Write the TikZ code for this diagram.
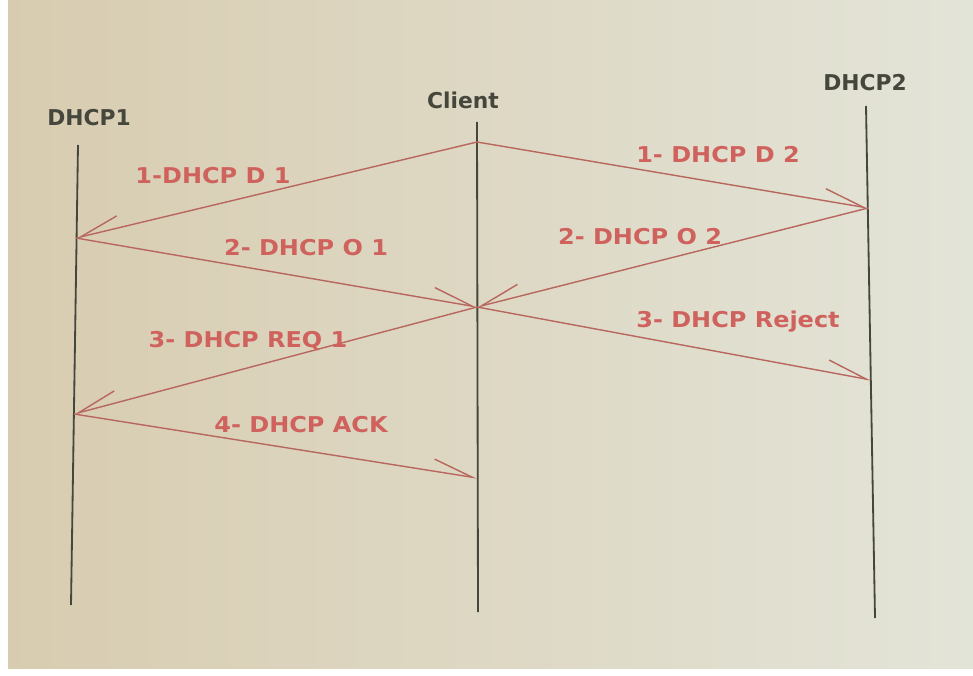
\documentclass[tikz,border=0pt]{standalone}
\usepackage{fontspec}
\setmainfont{DejaVu Sans}
\newfontfamily\widesans[FakeStretch=1.1]{DejaVu Sans}
\usepackage{xcolor}
\usetikzlibrary{arrows.meta}
\definecolor{paperL}{HTML}{D8CCB0}
\definecolor{paperM}{HTML}{E4E1D2}
\definecolor{paperR}{HTML}{E3E4D8}
\definecolor{msgline}{HTML}{B8675F}
\definecolor{msgtext}{HTML}{D0625E}
\definecolor{lifeline}{HTML}{45463C}

\begin{document}
\begin{tikzpicture}[x=0.025cm,y=-0.025cm,
    head/.style={text=lifeline,font=\fontsize{15.5}{18}\selectfont\bfseries,inner sep=0pt},
    life/.style={draw=lifeline,line width=1.3pt},
    lbl/.style={text=msgtext,font=\widesans\fontsize{15.5}{18}\selectfont\bfseries,inner sep=0pt},
    msg/.style={draw=msgline,line width=1pt},
    msge/.style={msg,-{Straight Barb[left,length=10mm,width=6mm]}},
    msgw/.style={msg,-{Straight Barb[right,length=10mm,width=6mm]}}]
  \useasboundingbox (0,0) rectangle (973,676);
  \fill[white] (0,0) rectangle (973,676);
  \shade[left color=paperL,middle color=paperM,right color=paperR] (8,0) rectangle (973,668);

  % lifelines
  \node[head] (dhcp1) at (89,118) {DHCP1};
  \node[head] (client) at (463,100) {Client};
  \node[head] (dhcp2) at (865,83) {DHCP2};
  \coordinate (d1top) at (78,145);
  \coordinate (d1bot) at (71,605);
  \coordinate (cltop) at (477,122);
  \coordinate (clbot) at (478,612);
  \coordinate (d2top) at (866,106);
  \coordinate (d2bot) at (875,618);
  \draw[life] (d1top) -- (d1bot);
  \draw[life] (cltop) -- (clbot);
  \draw[life] (d2top) -- (d2bot);

  % message ends on the lifelines
  \coordinate (c1) at (477,142);
  \coordinate (c2) at (477,307);
  \coordinate (c3) at (477,478);
  \coordinate (d1a) at (76,238);
  \coordinate (d1b) at (74,414);
  \coordinate (d2a) at (868,208);
  \coordinate (d2b) at (871,380);

  % messages
  \draw[msgw] (c1) -- (d1a);
  \draw[msge] (c1) -- (d2a);
  \draw[msge] (d1a) -- (c2);
  \draw[msgw] (d2a) -- (c2);
  \draw[msgw] (c2) -- (d1b);
  \draw[msge] (c2) -- (d2b);
  \draw[msge] (d1b) -- (c3);

  \node[lbl] (discover1) at (213,176) {1-DHCP D 1};
  \node[lbl] (discover2) at (718,155) {1- DHCP D 2};
  \node[lbl] (offer1) at (306,248) {2- DHCP O 1};
  \node[lbl] (offer2) at (640,237) {2- DHCP O 2};
  \node[lbl] (request1) at (248,341) {3- DHCP REQ 1};
  \node[lbl] (reject2) at (738,322) {3- DHCP Reject};
  \node[lbl] (ack1) at (301,425) {4- DHCP ACK};
\end{tikzpicture}
\end{document}
